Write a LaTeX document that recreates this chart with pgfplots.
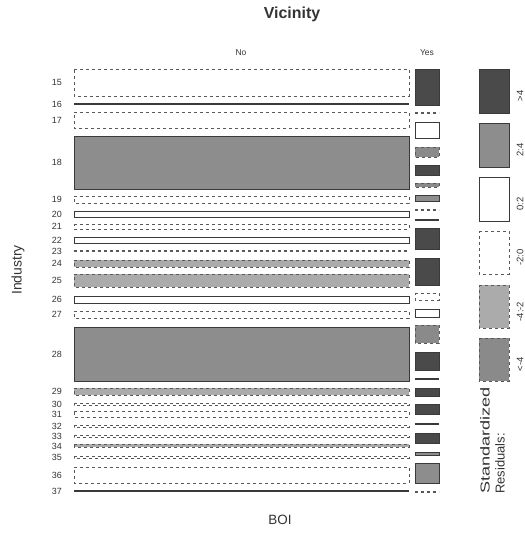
\documentclass[border=0pt]{standalone}
\usepackage{pgfplots}
\pgfplotsset{compat=1.18}
\usepackage{fontspec}
\setmainfont{Liberation Sans}

\definecolor{txt}{HTML}{333333}
\definecolor{edge}{HTML}{3A3A3A}
\definecolor{shHi}{HTML}{4A4A4A}   % > 4
\definecolor{shMid}{HTML}{8D8D8D}  % 2:4
\definecolor{shNegA}{HTML}{ABABAB} % -4:-2
\definecolor{shNegB}{HTML}{8A8A8A} % < -4

\tikzset{
  dsh/.style={dash pattern=on 3bp off 3bp},
  sHi/.style={fill=shHi, draw=edge, line width=0.9bp, mark=none},
  sMid/.style={fill=shMid, draw=edge, line width=0.9bp, mark=none},
  sPos/.style={fill=white, draw=edge, line width=0.9bp, mark=none},
  sNeg/.style={fill=white, draw=edge!85, line width=0.9bp, dsh, mark=none},
  sNegA/.style={fill=shNegA, draw=edge!85, line width=0.9bp, dsh, mark=none},
  sNegB/.style={fill=shNegB, draw=edge!85, line width=0.9bp, dsh, mark=none},
  lPos/.style={draw=edge, line width=1.2bp, mark=none},
  lNeg/.style={draw=edge!85, line width=1.2bp, dsh, mark=none},
}

% one tile of the mosaic: x-left, x-right, y-top, y-bottom, style
\newcommand{\tile}[5]{\addplot[#5] coordinates {(#1,#3) (#2,#3) (#2,#4) (#1,#4)} -- cycle;}
% an empty tile, drawn as a single rule: x-left, x-right, y, style
\newcommand{\flattile}[4]{\addplot[#4] coordinates {(#1,#3) (#2,#3)};}
% industry label at the height of its tile
\newcommand{\rowlab}[2]{\node[font=\fontsize{9}{9}\selectfont, anchor=east, text=txt, inner sep=0pt] at (axis cs:62,#2) {#1};}
% legend label beside its key
\newcommand{\keylab}[2]{\node[font=\fontsize{9.5}{9.5}\selectfont, rotate=90, text=txt, inner sep=0pt] at (axis cs:520,#2) {#1};}

\begin{document}
\begin{tikzpicture}
\begin{axis}[
  scale only axis, width=525bp, height=535bp,
  xmin=0, xmax=525, ymin=0, ymax=535, y dir=reverse,
  hide axis, clip=false,
]
% keep the whole plotting area in the picture
\path (axis cs:0,0) -- (axis cs:525,535);

% ---- Vicinity = No ----
\def\xa{74}\def\xb{409}
\tile{\xa}{\xb}{69}{96}{sNeg}
\flattile{\xa}{\xb}{104}{lPos}
\tile{\xa}{\xb}{112}{128}{sNeg}
\tile{\xa}{\xb}{136}{189}{sMid}
\tile{\xa}{\xb}{196}{203}{sNeg}
\tile{\xa}{\xb}{211}{217}{sPos}
\tile{\xa}{\xb}{224}{229}{sNeg}
\tile{\xa}{\xb}{237}{243}{sPos}
\flattile{\xa}{\xb}{251}{lNeg}
\tile{\xa}{\xb}{260}{267}{sNegA}
\tile{\xa}{\xb}{274}{287}{sNegA}
\tile{\xa}{\xb}{296}{303}{sPos}
\tile{\xa}{\xb}{311}{318}{sNeg}
\tile{\xa}{\xb}{327}{381}{sMid}
\tile{\xa}{\xb}{388}{395}{sNegA}
\tile{\xa}{\xb}{403}{405}{sNeg}
\tile{\xa}{\xb}{411}{417}{sNeg}
\tile{\xa}{\xb}{425}{427}{sNeg}
\tile{\xa}{\xb}{435}{437}{sNeg}
\tile{\xa}{\xb}{444}{447}{sNegA}
\tile{\xa}{\xb}{456}{458}{sNeg}
\tile{\xa}{\xb}{467}{483}{sNeg}
\flattile{\xa}{\xb}{491}{lPos}

% ---- Vicinity = Yes ----
\def\ya{415}\def\yb{439}
\tile{\ya}{\yb}{69}{105}{sHi}
\flattile{\ya}{\yb}{113}{lNeg}
\tile{\ya}{\yb}{122}{138}{sPos}
\tile{\ya}{\yb}{147}{157}{sNegB}
\tile{\ya}{\yb}{165}{175}{sHi}
\tile{\ya}{\yb}{183}{187}{sNegB}
\tile{\ya}{\yb}{195}{201}{sMid}
\flattile{\ya}{\yb}{210}{lNeg}
\flattile{\ya}{\yb}{220}{lPos}
\tile{\ya}{\yb}{228}{249}{sHi}
\tile{\ya}{\yb}{258}{285}{sHi}
\tile{\ya}{\yb}{293}{300}{sNeg}
\tile{\ya}{\yb}{309}{317}{sPos}
\tile{\ya}{\yb}{325}{343}{sNegB}
\tile{\ya}{\yb}{352}{370}{sHi}
\flattile{\ya}{\yb}{379}{lPos}
\tile{\ya}{\yb}{388}{396}{sHi}
\tile{\ya}{\yb}{404}{414}{sHi}
\flattile{\ya}{\yb}{424}{lPos}
\tile{\ya}{\yb}{433}{443}{sHi}
\tile{\ya}{\yb}{452}{455}{sMid}
\tile{\ya}{\yb}{463}{483}{sMid}
\flattile{\ya}{\yb}{492}{lNeg}

% ---- shading legend ----
\def\la{479}\def\lb{509}
\tile{\la}{\lb}{69}{113}{sHi}
\tile{\la}{\lb}{123}{167}{sMid}
\tile{\la}{\lb}{177}{221}{sPos}
\tile{\la}{\lb}{231}{274}{sNeg}
\tile{\la}{\lb}{285}{328}{sNegA}
\tile{\la}{\lb}{338}{381}{sNegB}

% ---- text ----
\node[font=\bfseries\fontsize{16}{16}\selectfont, text=txt, inner sep=0pt] at (axis cs:292,14) {Vicinity};
\node[font=\fontsize{8.5}{8.5}\selectfont, text=txt, inner sep=0pt] at (axis cs:241,53) {No};
\node[font=\fontsize{8.5}{8.5}\selectfont, text=txt, inner sep=0pt] at (axis cs:427,53) {Yes};
\node[font=\fontsize{14}{14}\selectfont, rotate=90, text=txt, inner sep=0pt] at (axis cs:18,270) {Industry};
\node[font=\fontsize{13.5}{13.5}\selectfont, text=txt, inner sep=0pt] at (axis cs:280,520) {BOI};

\rowlab{15}{82.5}  \rowlab{16}{104}   \rowlab{17}{120}   \rowlab{18}{162.5}
\rowlab{19}{199.5} \rowlab{20}{214}   \rowlab{21}{226.5} \rowlab{22}{240}
\rowlab{23}{251}   \rowlab{24}{263.5} \rowlab{25}{280.5} \rowlab{26}{299.5}
\rowlab{27}{314.5} \rowlab{28}{354}   \rowlab{29}{391.5} \rowlab{30}{404}
\rowlab{31}{414.5} \rowlab{32}{426}   \rowlab{33}{436}   \rowlab{34}{446}
\rowlab{35}{457}   \rowlab{36}{475}   \rowlab{37}{491}

\keylab{>4}{96}
\keylab{2:4}{150}
\keylab{0:2}{204}
\keylab{-2:0}{257.5}
\keylab{-4:-2}{311.5}
\keylab{<-4}{364.5}

\node[font=\fontsize{13}{15}\selectfont, rotate=90, anchor=north west, align=left, text=txt, inner sep=0pt]
  at (axis cs:480,494) {\scalebox{1.4}[1]{Standardized}\\Residuals:};
\end{axis}
\end{tikzpicture}
\end{document}
